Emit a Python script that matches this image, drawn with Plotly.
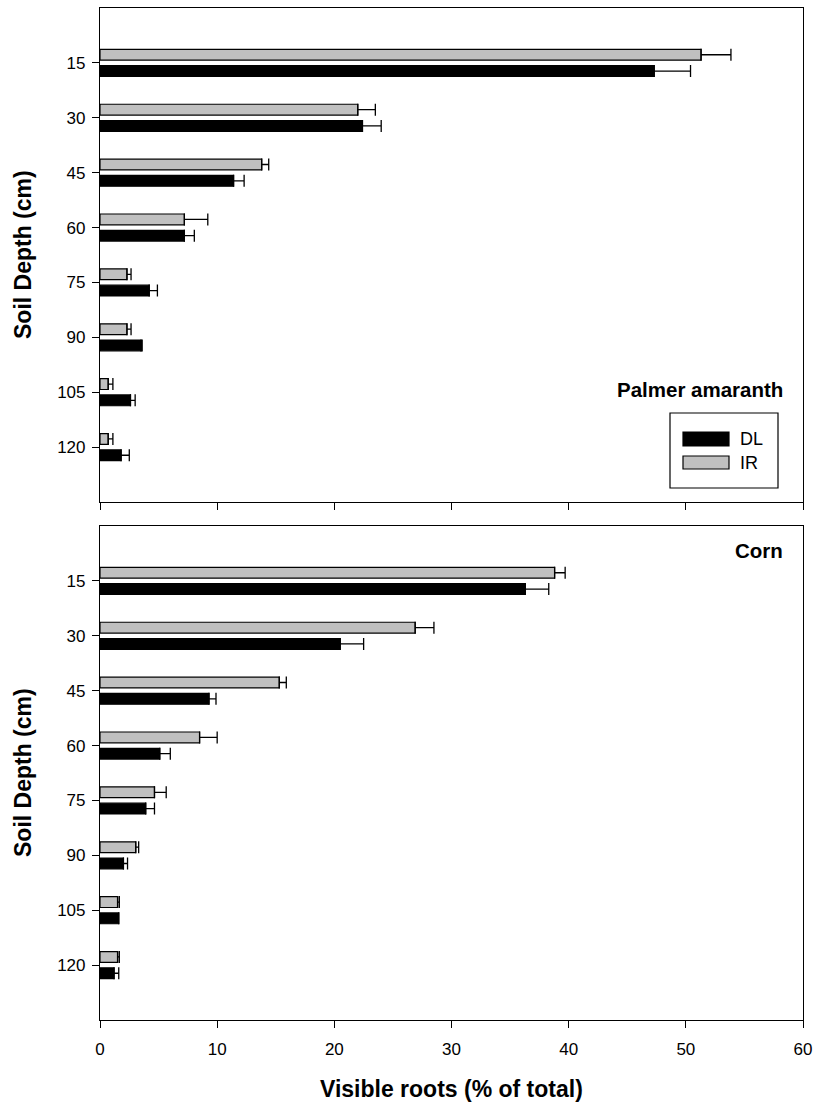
import plotly.graph_objects as go

# Soil depth classes (cm)
depths = [15, 30, 45, 60, 75, 90, 105, 120]

# Palmer amaranth: visible roots (% of total) and standard errors
pa_dl = [47.3, 22.4, 11.4, 7.2, 4.2, 3.5, 2.6, 1.8]
pa_dl_se = [3.1, 1.6, 0.9, 0.85, 0.7, 0.1, 0.4, 0.7]
pa_ir = [51.3, 22.0, 13.8, 7.2, 2.3, 2.3, 0.7, 0.7]
pa_ir_se = [2.55, 1.5, 0.6, 2.0, 0.35, 0.35, 0.4, 0.4]

# Corn: visible roots (% of total) and standard errors
corn_dl = [36.3, 20.5, 9.3, 5.1, 3.9, 2.0, 1.6, 1.2]
corn_dl_se = [2.0, 2.0, 0.6, 0.9, 0.75, 0.35, 0.0, 0.4]
corn_ir = [38.8, 26.9, 15.3, 8.5, 4.65, 3.05, 1.5, 1.5]
corn_ir_se = [0.9, 1.6, 0.6, 1.5, 1.0, 0.25, 0.15, 0.15]

x_ticks = [0, 10, 20, 30, 40, 50, 60]
series_names = ["DL", "IR"]
series_colors = ["#000000", "#c0c0c0"]

FONT = "Arial, Liberation Sans, sans-serif"
W, H = 814, 1105
ML, MR, MT, MB = 100, 11, 8, 85
PW, PH = W - ML - MR, H - MT - MB


def px_x(px):
    return (px - ML) / PW


def px_y(py):
    return (H - MB - py) / PH


fig = go.Figure()

# bar geometry in depth units (one category step = 15 cm)
BAR_W = 2.95
IR_OFF = -3.7
DL_OFF = 0.75


def add_pair(dl, dl_se, ir, ir_se, xa, ya):
    fig.add_trace(go.Bar(
        y=depths, x=ir, orientation="h", name="IR",
        marker=dict(color=series_colors[1], line=dict(color="black", width=1.2)),
        offset=IR_OFF, width=BAR_W, xaxis=xa, yaxis=ya, showlegend=False,
        error_x=dict(type="data", array=ir_se, symmetric=False,
                     arrayminus=[0] * len(ir_se), color="black",
                     thickness=1.3, width=6),
    ))
    fig.add_trace(go.Bar(
        y=depths, x=dl, orientation="h", name="DL",
        marker=dict(color=series_colors[0], line=dict(color="black", width=1.2)),
        offset=DL_OFF, width=BAR_W, xaxis=xa, yaxis=ya, showlegend=False,
        error_x=dict(type="data", array=dl_se, symmetric=False,
                     arrayminus=[0] * len(dl_se), color="black",
                     thickness=1.3, width=6),
    ))


add_pair(pa_dl, pa_dl_se, pa_ir, pa_ir_se, "x", "y")
add_pair(corn_dl, corn_dl_se, corn_ir, corn_ir_se, "x2", "y2")

top_dom = [px_y(502), 1.0]
bot_dom = [0.0, px_y(526)]

axis_common = dict(
    range=[0, 60], tickvals=x_ticks, ticks="outside", ticklen=7,
    tickwidth=1.2, tickcolor="black", showline=True, linewidth=1.2,
    linecolor="black", mirror=True, showgrid=False, zeroline=False,
    automargin=False, ticklabelstandoff=6,
    tickfont=dict(family=FONT, size=17, color="black"),
)
yaxis_common = dict(
    range=[135, 0], tickvals=depths, ticktext=[str(d) for d in depths],
    ticks="outside", ticklen=7, tickwidth=1.2, tickcolor="black",
    showline=True, linewidth=1.2, linecolor="black", mirror=True,
    showgrid=False, zeroline=False, automargin=False, ticklabelstandoff=3,
    tickfont=dict(family=FONT, size=17, color="black"),
)

fig.update_layout(
    width=W, height=H,
    margin=dict(l=ML, r=MR, t=MT, b=MB, autoexpand=False),
    paper_bgcolor="white", plot_bgcolor="white",
    barmode="overlay",
    xaxis=dict(axis_common, anchor="y", showticklabels=False),
    yaxis=dict(yaxis_common, domain=top_dom, anchor="x"),
    xaxis2=dict(axis_common, anchor="y2"),
    yaxis2=dict(yaxis_common, domain=bot_dom, anchor="x2"),
    font=dict(family=FONT, color="black"),
)

annotations = []
# axis titles
for cy in [(8 + 502) / 2, (526 + 1020) / 2]:
    annotations.append(dict(
        text="<b>Soil Depth (cm)</b>", x=px_x(23), y=px_y(cy),
        xref="paper", yref="paper", showarrow=False, textangle=-90,
        xanchor="center", yanchor="middle",
        font=dict(family=FONT, size=23, color="black"),
    ))
annotations.append(dict(
    text="<b>Visible roots (% of total)</b>", x=px_x(451), y=px_y(1089),
    xref="paper", yref="paper", showarrow=False,
    xanchor="center", yanchor="middle",
    font=dict(family=FONT, size=23, color="black"),
))
# panel labels
annotations.append(dict(
    text="<b>Palmer amaranth</b>", x=px_x(785), y=px_y(389),
    xref="paper", yref="paper", showarrow=False,
    xanchor="right", yanchor="middle",
    font=dict(family=FONT, size=20.5, color="black"),
))
annotations.append(dict(
    text="<b>Corn</b>", x=px_x(785), y=px_y(550),
    xref="paper", yref="paper", showarrow=False,
    xanchor="right", yanchor="middle",
    font=dict(family=FONT, size=20.5, color="black"),
))

# legend box with wide swatches
shapes = [dict(type="rect", xref="paper", yref="paper",
               x0=px_x(670), x1=px_x(778), y0=px_y(488), y1=px_y(413),
               line=dict(color="black", width=1.2), fillcolor="white")]
for name, color, (y0, y1) in zip(series_names, series_colors,
                                 [(432, 446), (456, 469)]):
    shapes.append(dict(type="rect", xref="paper", yref="paper",
                       x0=px_x(683), x1=px_x(729), y0=px_y(y1), y1=px_y(y0),
                       line=dict(color="black", width=1.2), fillcolor=color))
    annotations.append(dict(
        text=name, x=px_x(738), y=px_y((y0 + y1) / 2),
        xref="paper", yref="paper", showarrow=False,
        xanchor="left", yanchor="middle",
        font=dict(family=FONT, size=18, color="black"),
    ))

fig.update_layout(annotations=annotations, shapes=shapes)

fig.write_html("out.html")
